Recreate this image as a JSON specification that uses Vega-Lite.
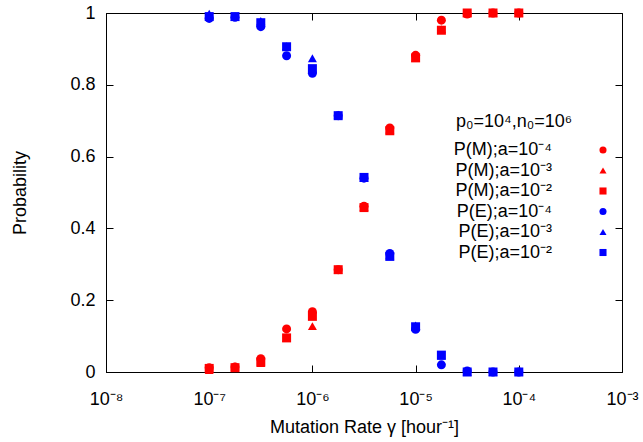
{
  "$schema": "https://vega.github.io/schema/vega-lite/v6.json",
  "width": 516,
  "height": 359,
  "autosize": {"type": "none"},
  "padding": {"left": 106, "top": 13, "right": 21, "bottom": 70},
  "background": "white",
  "config": {
    "view": {"stroke": "black", "strokeWidth": 1},
    "font": "Liberation Sans",
    "axis": {
      "grid": false,
      "domainColor": "black",
      "tickColor": "black",
      "labelColor": "black",
      "titleColor": "black",
      "labelFontSize": 18,
      "titleFontSize": 18,
      "titleFontWeight": "normal",
      "tickSize": -7
    },
    "legend": {"labelColor": "black", "titleColor": "black"}
  },
  "data": {
    "values": [
      {"series": "M4", "rate": 1e-7, "prob": 0.012},
      {"series": "M4", "rate": 1.778e-7, "prob": 0.014},
      {"series": "M4", "rate": 3.162e-7, "prob": 0.037},
      {"series": "M4", "rate": 5.623e-7, "prob": 0.12},
      {"series": "M4", "rate": 1e-6, "prob": 0.168},
      {"series": "M4", "rate": 1.778e-6, "prob": 0.285},
      {"series": "M4", "rate": 3.162e-6, "prob": 0.462},
      {"series": "M4", "rate": 5.623e-6, "prob": 0.68},
      {"series": "M4", "rate": 1e-5, "prob": 0.882},
      {"series": "M4", "rate": 1.778e-5, "prob": 0.98},
      {"series": "M4", "rate": 3.162e-5, "prob": 0.997},
      {"series": "M4", "rate": 5.623e-5, "prob": 1.0},
      {"series": "M4", "rate": 1e-4, "prob": 1.0},
      {"series": "M3", "rate": 1e-7, "prob": 0.005},
      {"series": "M3", "rate": 1.778e-7, "prob": 0.016},
      {"series": "M3", "rate": 3.162e-7, "prob": 0.025},
      {"series": "M3", "rate": 5.623e-7, "prob": 0.095},
      {"series": "M3", "rate": 1e-6, "prob": 0.128},
      {"series": "M3", "rate": 1.778e-6, "prob": 0.285},
      {"series": "M3", "rate": 3.162e-6, "prob": 0.46},
      {"series": "M3", "rate": 5.623e-6, "prob": 0.675},
      {"series": "M3", "rate": 1e-5, "prob": 0.875},
      {"series": "M3", "rate": 1.778e-5, "prob": 0.955},
      {"series": "M3", "rate": 3.162e-5, "prob": 1.0},
      {"series": "M3", "rate": 5.623e-5, "prob": 1.0},
      {"series": "M3", "rate": 1e-4, "prob": 1.0},
      {"series": "M2", "rate": 1e-7, "prob": 0.01},
      {"series": "M2", "rate": 1.778e-7, "prob": 0.012},
      {"series": "M2", "rate": 3.162e-7, "prob": 0.028},
      {"series": "M2", "rate": 5.623e-7, "prob": 0.095},
      {"series": "M2", "rate": 1e-6, "prob": 0.155},
      {"series": "M2", "rate": 1.778e-6, "prob": 0.285},
      {"series": "M2", "rate": 3.162e-6, "prob": 0.458},
      {"series": "M2", "rate": 5.623e-6, "prob": 0.672},
      {"series": "M2", "rate": 1e-5, "prob": 0.875},
      {"series": "M2", "rate": 1.778e-5, "prob": 0.952},
      {"series": "M2", "rate": 3.162e-5, "prob": 1.0},
      {"series": "M2", "rate": 5.623e-5, "prob": 1.0},
      {"series": "M2", "rate": 1e-4, "prob": 1.0},
      {"series": "E4", "rate": 1e-7, "prob": 0.985},
      {"series": "E4", "rate": 1.778e-7, "prob": 0.988},
      {"series": "E4", "rate": 3.162e-7, "prob": 0.962},
      {"series": "E4", "rate": 5.623e-7, "prob": 0.881},
      {"series": "E4", "rate": 1e-6, "prob": 0.832},
      {"series": "E4", "rate": 1.778e-6, "prob": 0.714},
      {"series": "E4", "rate": 3.162e-6, "prob": 0.54},
      {"series": "E4", "rate": 5.623e-6, "prob": 0.33},
      {"series": "E4", "rate": 1e-5, "prob": 0.119},
      {"series": "E4", "rate": 1.778e-5, "prob": 0.02},
      {"series": "E4", "rate": 3.162e-5, "prob": 0.003},
      {"series": "E4", "rate": 5.623e-5, "prob": 0.0},
      {"series": "E4", "rate": 1e-4, "prob": 0.0},
      {"series": "E3", "rate": 1e-7, "prob": 0.998},
      {"series": "E3", "rate": 1.778e-7, "prob": 0.99},
      {"series": "E3", "rate": 3.162e-7, "prob": 0.978},
      {"series": "E3", "rate": 5.623e-7, "prob": 0.908},
      {"series": "E3", "rate": 1e-6, "prob": 0.874},
      {"series": "E3", "rate": 1.778e-6, "prob": 0.717},
      {"series": "E3", "rate": 3.162e-6, "prob": 0.54},
      {"series": "E3", "rate": 5.623e-6, "prob": 0.325},
      {"series": "E3", "rate": 1e-5, "prob": 0.13},
      {"series": "E3", "rate": 1.778e-5, "prob": 0.045},
      {"series": "E3", "rate": 3.162e-5, "prob": 0.0},
      {"series": "E3", "rate": 5.623e-5, "prob": 0.0},
      {"series": "E3", "rate": 1e-4, "prob": 0.002},
      {"series": "E2", "rate": 1e-7, "prob": 0.99},
      {"series": "E2", "rate": 1.778e-7, "prob": 0.99},
      {"series": "E2", "rate": 3.162e-7, "prob": 0.973},
      {"series": "E2", "rate": 5.623e-7, "prob": 0.906},
      {"series": "E2", "rate": 1e-6, "prob": 0.845},
      {"series": "E2", "rate": 1.778e-6, "prob": 0.714},
      {"series": "E2", "rate": 3.162e-6, "prob": 0.542},
      {"series": "E2", "rate": 5.623e-6, "prob": 0.322},
      {"series": "E2", "rate": 1e-5, "prob": 0.126},
      {"series": "E2", "rate": 1.778e-5, "prob": 0.047},
      {"series": "E2", "rate": 3.162e-5, "prob": 0.0},
      {"series": "E2", "rate": 5.623e-5, "prob": 0.0},
      {"series": "E2", "rate": 1e-4, "prob": 0.0}
    ]
  },
  "layer": [
    {
      "mark": {"type": "point", "opacity": 0},
      "encoding": {
        "x": {"field": "rate", "type": "quantitative", "scale": {"type": "log", "domain": [1e-8, 1e-3]},
          "axis": {"orient": "top", "labels": false, "title": null, "domain": false, "values": [1e-8, 1e-7, 1e-6, 1e-5, 1e-4, 1e-3]}},
        "y": {"field": "prob", "type": "quantitative", "scale": {"domain": [0, 1]},
          "axis": {"orient": "right", "labels": false, "title": null, "domain": false, "values": [0, 0.2, 0.4, 0.6, 0.8, 1]}}
      }
    },
    {
      "mark": {"type": "point", "filled": true, "size": 81, "opacity": 1, "strokeWidth": 0},
      "encoding": {
        "x": {"field": "rate", "type": "quantitative", "scale": {"type": "log", "domain": [1e-8, 1e-3]},
          "axis": {"orient": "bottom", "title": "Mutation Rate γ [hour⁻¹]", "values": [1e-8, 1e-7, 1e-6, 1e-5, 1e-4, 1e-3],
            "labelExpr": "['10⁻⁸','10⁻⁷','10⁻⁶','10⁻⁵','10⁻⁴','10⁻³'][round(log(datum.value)/LN10)+8]",
            "labelFlush": false, "labelPadding": 25, "titlePadding": 10}},
        "y": {"field": "prob", "type": "quantitative", "scale": {"domain": [0, 1]},
          "axis": {"orient": "left", "title": "Probability", "values": [0, 0.2, 0.4, 0.6, 0.8, 1],
            "labelExpr": "datum.value == 0 ? '0' : datum.value == 1 ? '1' : format(datum.value, '.1f')",
            "labelFlush": false, "labelPadding": 18, "titlePadding": 40}},
        "color": {"field": "series", "type": "nominal",
          "scale": {"domain": ["M4", "M3", "M2", "E4", "E3", "E2"], "range": ["#ff0000", "#ff0000", "#ff0000", "#0000ff", "#0000ff", "#0000ff"]},
          "legend": {
            "orient": "none", "legendX": 350, "legendY": 100,
            "title": "p₀=10⁴,n₀=10⁶", "titleFontSize": 18, "titleFontWeight": "normal",
            "titleAnchor": "start", "titlePadding": 10,
            "labelFontSize": 18, "labelAlign": "right", "labelOffset": -60,
            "symbolOffset": 138,
            "symbolSize": 50, "symbolStrokeWidth": 0, "rowPadding": 2.5,
            "labelExpr": "{'M4':'P(M);a=10⁻⁴','M3':'P(M);a=10⁻³','M2':'P(M);a=10⁻²','E4':'P(E);a=10⁻⁴','E3':'P(E);a=10⁻³','E2':'P(E);a=10⁻²'}[datum.label]"
          }},
        "shape": {"field": "series", "type": "nominal",
          "scale": {"domain": ["M4", "M3", "M2", "E4", "E3", "E2"], "range": ["circle", "triangle-up", "square", "circle", "triangle-up", "square"]}}
      }
    }
  ],
  "resolve": {"axis": {"x": "independent", "y": "independent"}}
}
